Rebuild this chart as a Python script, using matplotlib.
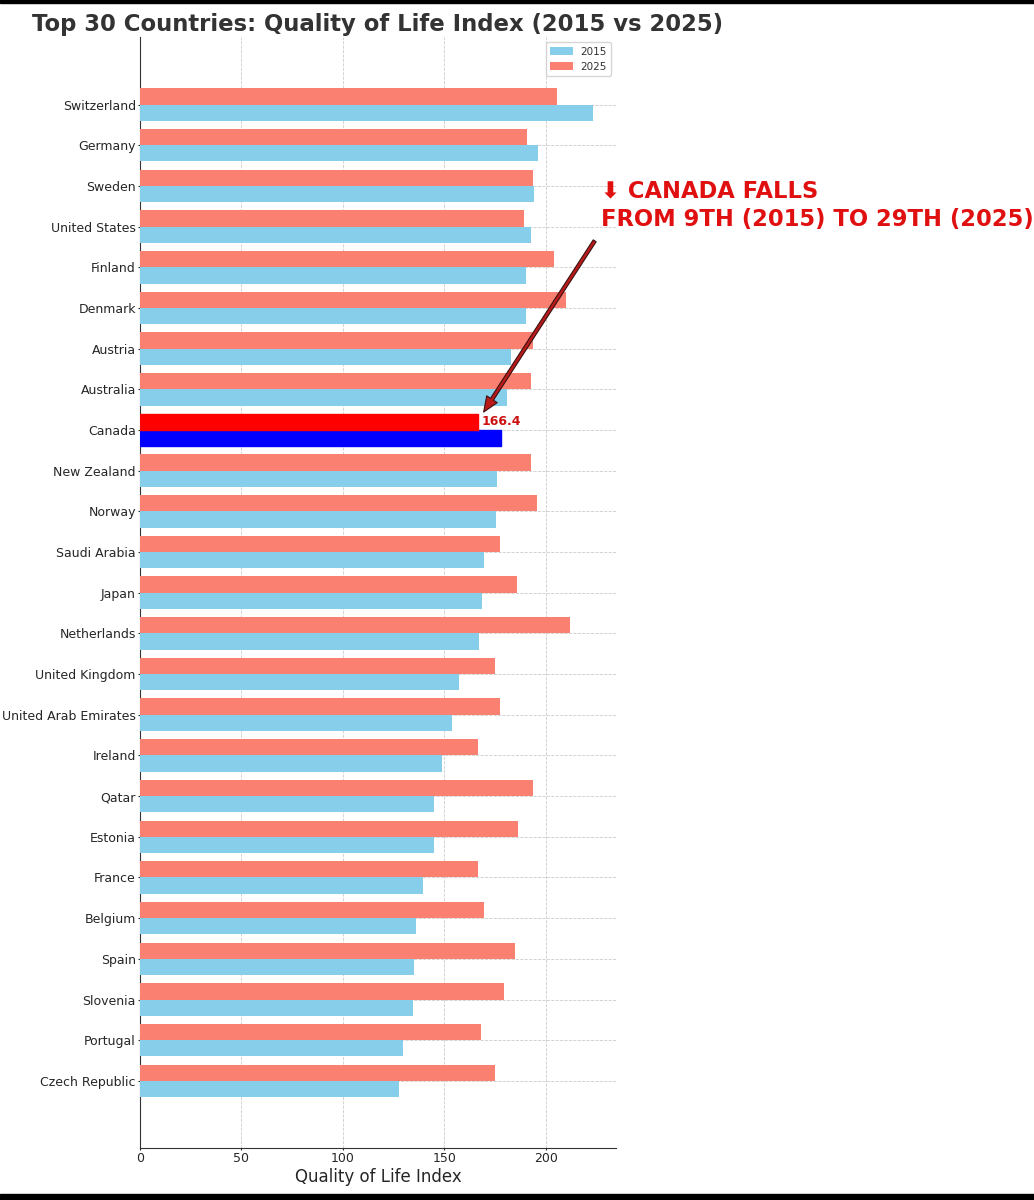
import matplotlib
matplotlib.use('Agg')
import matplotlib.pyplot as plt
import numpy as np
from matplotlib.patches import Rectangle

countries = ['Switzerland', 'Germany', 'Sweden', 'United States', 'Finland',
             'Denmark', 'Austria', 'Australia', 'Canada', 'New Zealand',
             'Norway', 'Saudi Arabia', 'Japan', 'Netherlands', 'United Kingdom',
             'United Arab Emirates', 'Ireland', 'Qatar', 'Estonia', 'France',
             'Belgium', 'Spain', 'Slovenia', 'Portugal', 'Czech Republic']

values_2015 = [223.0, 196.0, 194.0, 192.6, 190.3, 190.3, 182.8, 181.0, 178.0, 175.9,
               175.4, 169.5, 168.5, 167.0, 157.0, 153.7, 148.8, 145.0, 144.8, 139.5,
               136.0, 135.0, 134.5, 129.5, 127.6]

values_2025 = [205.4, 190.6, 193.6, 189.0, 204.0, 210.0, 193.5, 192.5, 166.4, 192.6,
               195.5, 177.3, 185.7, 211.8, 174.9, 177.3, 166.7, 193.6, 186.2, 166.5,
               169.5, 184.7, 179.5, 168.0, 175.0]

highlight = 'Canada'

fig = plt.figure(figsize=(10.34, 12), dpi=100)
ax = fig.add_axes([140 / 1034, 1 - 1148 / 1200, 476 / 1034, 1111 / 1200])

y = np.arange(len(countries))
h = 0.4

bars15 = ax.barh(y + h / 2, values_2015, h, color='skyblue', label='2015', zorder=3)
bars25 = ax.barh(y - h / 2, values_2025, h, color='salmon', label='2025', zorder=3)

idx = countries.index(highlight)
bars15[idx].set_color('blue')
bars25[idx].set_color('red')

ax.set_yticks(y)
ax.set_yticklabels(countries, fontsize=9, color='#262626')
ax.set_xticks([0, 50, 100, 150, 200])
ax.tick_params(axis='x', labelsize=9, colors='#262626', length=1.5, pad=1.5)
ax.tick_params(axis='y', length=1.5, pad=1.5, color='#333333')
ax.set_xlim(0, 234.5)
ax.set_ylim(len(countries) - 1 + 1.65, -1.66)
ax.set_xlabel('Quality of Life Index', fontsize=12, color='#262626', labelpad=2)

ax.grid(True, linestyle='--', color='#cccccc', linewidth=0.6, zorder=0)
ax.set_axisbelow(True)
ax.spines['top'].set_visible(False)
ax.spines['right'].set_visible(False)
ax.spines['left'].set_color('#333333')
ax.spines['bottom'].set_color('#333333')

ax.legend(loc='upper right', fontsize=7.5, bbox_to_anchor=(0.993, 0.997), borderaxespad=0.2,
          handlelength=2.2, handletextpad=0.7, labelcolor='#333333')

ax.text(values_2025[idx] + 2, idx - 0.22, '166.4', color='#cc1111', fontsize=9,
        fontweight='bold', va='center', ha='left', zorder=5)

ax.annotate('', xy=(169.3, idx - 0.44), xytext=(224, idx - 4.65),
            annotation_clip=False, zorder=6,
            arrowprops=dict(facecolor='#bb1a1a', edgecolor='#3a1010', linewidth=0.8,
                            width=2.5, headwidth=9, headlength=11, shrink=0))

fig.text(601 / 1034, 1 - 205.5 / 1200, '\u2b07 CANADA FALLS\nFROM 9TH (2015) TO 29TH (2025)',
         color='#e01010', fontsize=16.3, fontweight='bold', ha='left', va='center',
         linespacing=1.3)

fig.text(32 / 1034, 1 - 24 / 1200, 'Top 30 Countries: Quality of Life Index (2015 vs 2025)',
         color='#333333', fontsize=16.35, fontweight='bold', ha='left', va='center')

# black strips along the top and bottom edge
fig.add_artist(Rectangle((0, 1 - 3 / 1200), 1, 3 / 1200, transform=fig.transFigure, color='black'))
fig.add_artist(Rectangle((0, 0), 1, 6 / 1200, transform=fig.transFigure, color='black'))

fig.savefig('out.png', dpi=100)
